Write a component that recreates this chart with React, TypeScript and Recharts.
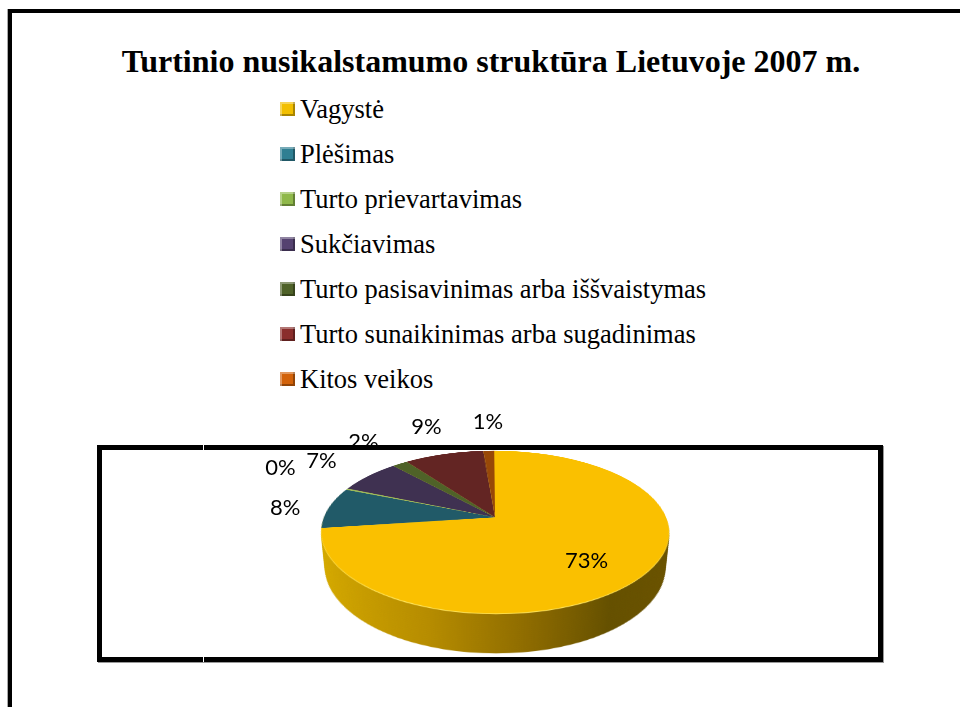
import React from "react";
import { Cell, Pie, PieChart } from "recharts";

const categories = [
  "Vagystė",
  "Plėšimas",
  "Turto prievartavimas",
  "Sukčiavimas",
  "Turto pasisavinimas arba iššvaistymas",
  "Turto sunaikinimas arba sugadinimas",
  "Kitos veikos",
];
const shares = [72.9, 8.2, 0.3, 6.9, 1.7, 8.8, 1.2];

const sliceColors = ["#fac000", "#215a68", "#9bbb59", "#3f3151", "#4f6228", "#632523", "#984807"];
const legendColors = ["#f2bf00", "#2f7f92", "#8fb84a", "#554270", "#4f6228", "#8a2e2c", "#d2620a"];

const data = categories.map((name, i) => ({ name, value: shares[i] }));
const sideData = [{ name: "side", value: 1 }];

const SERIF = "'Liberation Serif', 'Times New Roman', 'DejaVu Serif', serif";

// 3D pie: circle of radius R tilted by TILT with perspective P, centred on (CX, CY)
const R = 170.2;
const TILT = 62.76;
const P = 840.6;
const DEPTH = 40;
const CX = 490;
const CY = 515;
const SIZE = 400;
const HALF = SIZE / 2;

const sinT = Math.sin((TILT * Math.PI) / 180);
const cosT = Math.cos((TILT * Math.PI) / 180);

const sideDepths: number[] = [];
for (let d = DEPTH; d > 1.5; d -= 2) sideDepths.push(d);

const RADIAN = Math.PI / 180;

// project a point of the pie plane (x right, y down) onto the screen
function project(x: number, y: number) {
  const s = P / (P - y * sinT);
  return { x: x * s, y: y * cosT * s };
}

function renderLabel(props: any) {
  const { cx, cy, midAngle, percent, index, value } = props;
  const c = Math.cos(-midAngle * RADIAN);
  const s = Math.sin(-midAngle * RADIAN);
  let x: number;
  let y: number;
  if (index === 0) {
    const p = project(R * 0.66 * c, R * 0.66 * s);
    x = cx + p.x;
    y = cy + p.y + 3;
  } else {
    const p = project(R * c, R * s);
    const tiny = value < 1;
    const ax = (40 + 40 * Math.abs(c * s)) * (tiny ? 1.35 : 1);
    const ay = 34 * (tiny ? 2 : 1);
    x = cx + p.x + c * ax;
    y = cy + p.y + s * ay;
  }
  return (
    <text
      x={x}
      y={y}
      textAnchor="middle"
      dominantBaseline="central"
      fill="#000"
      style={{ fontFamily: "Lato, sans-serif", fontSize: 22 }}
    >
      {`${Math.round(percent * 100)}%`}
    </text>
  );
}

function layerStyle(depth: number): React.CSSProperties {
  return {
    position: "absolute",
    left: CX - HALF,
    top: CY - HALF,
    width: SIZE,
    height: SIZE,
    transformOrigin: `${HALF}px ${HALF}px`,
    transform: `perspective(${P}px) rotateX(${TILT}deg) translateZ(${-depth}px)`,
  };
}

function SideLayer({ depth, fill }: { depth: number; fill?: string }) {
  const id = `sideGrad${Math.round(depth * 10)}`;
  return (
    <div style={layerStyle(depth)}>
      <PieChart width={SIZE} height={SIZE}>
        <defs>
          <linearGradient id={id} gradientUnits="userSpaceOnUse" x1={HALF - R} y1={0} x2={HALF + R} y2={0}>
            <stop offset="0" stopColor="#d8ac00" />
            <stop offset="0.35" stopColor="#b68c00" />
            <stop offset="0.6" stopColor="#8c6a00" />
            <stop offset="0.8" stopColor="#655000" />
            <stop offset="1" stopColor="#6a5200" />
          </linearGradient>
        </defs>
        <Pie
          data={sideData}
          dataKey="value"
          cx={HALF}
          cy={HALF}
          outerRadius={R}
          startAngle={90}
          endAngle={-270}
          stroke="none"
          fill={fill || `url(#${id})`}
          isAnimationActive={false}
          legendType="none"
        />
      </PieChart>
    </div>
  );
}

export default function App() {
  return (
    <div
      style={{
        position: "fixed",
        left: 0,
        top: 0,
        width: 960,
        height: 707,
        overflow: "hidden",
        background: "#fff",
        fontFamily: SERIF,
      }}
    >
      {/* outer frame */}
      <div
        style={{
          position: "absolute",
          left: 8,
          top: 9,
          width: 1000,
          height: 800,
          border: "4px solid #000",
          boxShadow: "-1px 0 0 #aaa",
        }}
      />

      <div
        style={{
          position: "absolute",
          left: 0,
          top: 45.2,
          width: 982,
          textAlign: "center",
          fontFamily: SERIF,
          fontWeight: "bold",
          fontSize: 32,
          lineHeight: 1,
          color: "#000",
        }}
      >
        Turtinio nusikalstamumo struktūra Lietuvoje 2007 m.
      </div>

      {categories.map((name, i) => (
        <div
          key={name}
          style={{ position: "absolute", left: 280, top: 86.7 + i * 45, height: 45, width: 600 }}
        >
          <div
            style={{
              position: "absolute",
              left: 0,
              top: 15.5,
              width: 15,
              height: 14,
              background: legendColors[i],
              boxShadow: "inset 2px 2px 0 rgba(255,255,255,0.35), inset -2px -2px 0 rgba(0,0,0,0.3)",
            }}
          />
          <span
            style={{
              position: "absolute",
              left: 20,
              top: 0,
              lineHeight: "45px",
              fontFamily: SERIF,
              fontSize: 26.5,
              whiteSpace: "nowrap",
              color: "#000",
            }}
          >
            {name}
          </span>
        </div>
      ))}

      {/* plot area box */}
      <div
        style={{
          position: "absolute",
          left: 97,
          top: 445,
          width: 786 - 10,
          height: 217 - 10,
          border: "5px solid #000",
          boxShadow: "1px 1px 0 #999",
        }}
      />
      <div style={{ position: "absolute", left: 203, top: 445, width: 1, height: 5, background: "#fff" }} />
      <div style={{ position: "absolute", left: 203, top: 657, width: 1, height: 5, background: "#fff" }} />

      {sideDepths.map((d) => (
        <SideLayer key={d} depth={d} />
      ))}
      <SideLayer depth={0.8} fill="#ffe45c" />

      <div style={layerStyle(0)}>
        <PieChart width={SIZE} height={SIZE}>
          <Pie
            data={data}
            dataKey="value"
            nameKey="name"
            cx={HALF}
            cy={HALF}
            outerRadius={R}
            startAngle={90}
            endAngle={-270}
            stroke="none"
            isAnimationActive={false}
          >
            {data.map((d, i) => (
              <Cell key={d.name} fill={sliceColors[i]} />
            ))}
          </Pie>
        </PieChart>
      </div>

      {/* labels, placed on the projected pie */}
      <div style={{ position: "absolute", left: 0, top: 0 }}>
        <PieChart width={960} height={707}>
          <Pie
            data={data}
            dataKey="value"
            nameKey="name"
            cx={CX}
            cy={CY}
            outerRadius={R}
            startAngle={90}
            endAngle={-270}
            fill="none"
            stroke="none"
            label={renderLabel}
            labelLine={false}
            isAnimationActive={false}
          >
            {data.map((d) => (
              <Cell key={d.name} fill="none" />
            ))}
          </Pie>
        </PieChart>
      </div>
    </div>
  );
}
